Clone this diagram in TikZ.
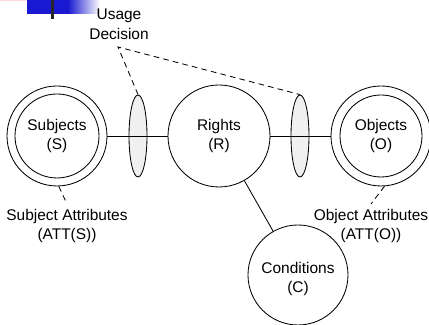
\documentclass[tikz,border=0pt]{standalone}
\usepackage{fontspec}
\setmainfont{Liberation Sans}
\usepackage{tikz}
\usetikzlibrary{positioning,shapes.geometric}

\tikzset{
    entity/.style={draw, circle, semithick, inner sep=0pt, align=center, font=\fontsize{11}{14}\selectfont},
    gate/.style={draw, ellipse, semithick, fill=gray!12, minimum width=0.45cm, minimum height=2.05cm, inner sep=0pt},
    label/.style={align=center, font=\fontsize{11}{14}\selectfont},
}

\begin{document}
\begin{tikzpicture}
    \useasboundingbox (0,0) rectangle (10.725,8.125);

    % Corner bar
    \fill[pink!60] (0,8.1) rectangle (1.075,8.125);
    \fill[blue!80!black!90] (0.675,7.775) rectangle (1.7,8.125);
    \shade[left color=blue!80!black!90, right color=white] (1.7,7.775) rectangle (2.5,8.125);
    \fill[black!85] (1.275,7.65) rectangle (1.35,8.125);

    % Gates
    \node[gate] (lgate) at (3.45,4.725) {};
    \node[gate] (rgate) at (7.5,4.725) {};

    % Entities
    \node[entity, minimum size=2.5cm] (subj) at (1.425,4.725) {};
    \node[entity, minimum size=2.1cm] (subjin) at (subj) {Subjects\\(S)};
    \node[entity, minimum size=2.55cm] (rights) at (5.475,4.725) {Rights\\(R)};
    \node[entity, minimum size=2.5cm] (obj) at (9.525,4.725) {};
    \node[entity, minimum size=2.05cm] (objin) at (obj) {Objects\\(O)};
    \node[entity, minimum size=2.5cm] (cond) at (7.45,1.25) {};
    \node[label] (condtext) at (7.45,1.15) {Conditions\\(C)};

    % Labels
    \node[label] (usage) at (2.975,7.525) {Usage\\Decision};
    \coordinate (apex) at (2.95,6.95);
    \node[label] (satt) at (1.675,2.475) {Subject Attributes\\(ATT(S))};
    \node[label] (oatt) at (9.275,2.475) {Object Attributes\\(ATT(O))};

    % Connections
    \draw[semithick] (subj) -- (rights);
    \draw[semithick] (rights) -- (obj);
    \draw[semithick] (rights) -- (cond);

    \draw[semithick, dash pattern=on 4pt off 3pt] (lgate.north) -- (apex) -- (rgate.north);
    \draw[semithick, dash pattern=on 4pt off 3pt] (subj.-88) -- (satt.north);
    \draw[semithick, dash pattern=on 4pt off 3pt] (obj.-86) -- (oatt.north);
\end{tikzpicture}
\end{document}
